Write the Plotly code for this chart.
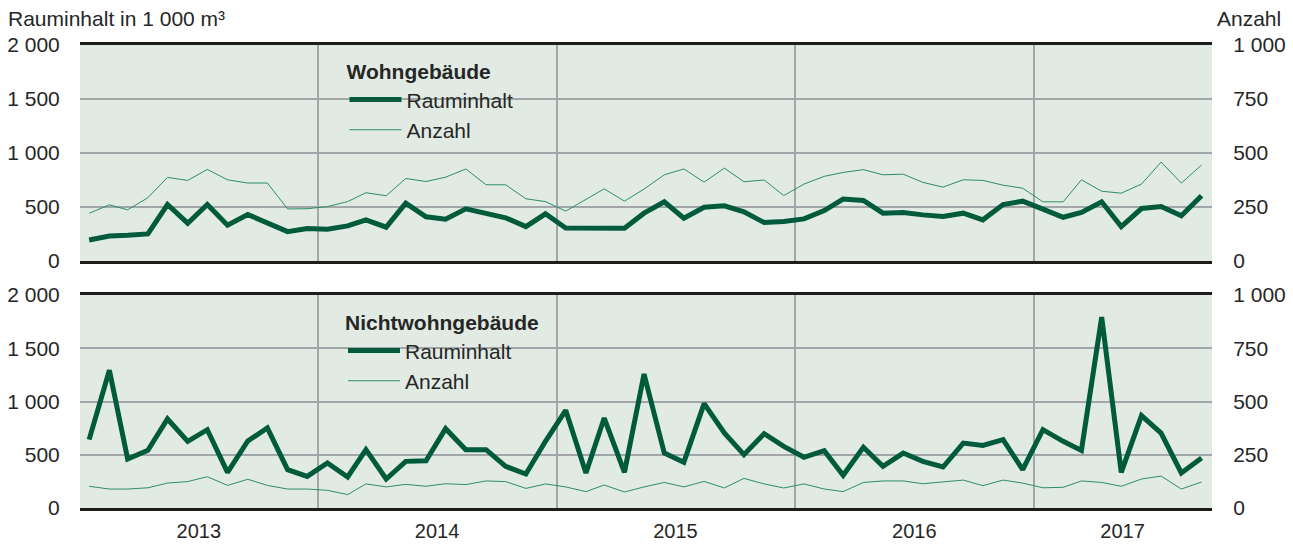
import plotly.graph_objects as go

# ---- data (monthly, Jan 2013 - Sep 2017) ----
months = [f"{y}-{m:02d}-15" for y in range(2013, 2018) for m in range(1, 13)][:57]

wohn_raum = [195, 232, 238, 251, 523, 350, 523, 331, 430, 350, 272, 300,
             294, 325, 381, 313, 536, 410, 387, 483, 443, 400, 319, 437,
             306, 306, 303, 303, 443, 548, 396, 498, 511, 455, 356, 365,
             390, 467, 573, 560, 443, 449, 427, 412, 443, 381, 523, 554,
             480, 405, 449, 548, 319, 486, 505, 418, 604]
wohn_anz = [221, 260, 237, 293, 387, 373, 424, 376, 361, 361, 241, 242,
            252, 275, 316, 302, 382, 368, 388, 426, 353, 353, 288, 275,
            231, 286, 334, 277, 333, 399, 426, 365, 430, 367, 375, 303,
            356, 392, 410, 423, 399, 402, 364, 342, 376, 373, 351, 337,
            274, 274, 376, 323, 314, 356, 458, 361, 444]
nicht_raum = [642, 1293, 460, 541, 836, 626, 735, 335, 629, 751, 360, 297,
              423, 291, 548, 272, 438, 444, 745, 548, 548, 391, 319, 626,
              917, 329, 845, 335, 1258, 516, 429, 980, 704, 501, 698, 579,
              476, 538, 307, 570, 391, 516, 438, 385, 610, 588, 642, 360,
              736, 626, 541, 1793, 335, 867, 704, 329, 470]
nicht_anz = [102, 89, 89, 95, 117, 124, 147, 106, 135, 106, 89, 89,
             83, 63, 113, 99, 111, 102, 114, 110, 127, 124, 92, 113,
             99, 77, 108, 75, 99, 120, 99, 125, 94, 139, 113, 94,
             113, 89, 77, 120, 127, 127, 114, 124, 131, 105, 131, 117,
             95, 97, 127, 120, 102, 136, 150, 89, 122]

year_labels = ["2013", "2014", "2015", "2016", "2017"]
year_label_pos = ["2013-07-02", "2014-07-02", "2015-07-02", "2016-07-02", "2017-05-17"]
year_bounds = ["2014-01-01", "2015-01-01", "2016-01-01", "2017-01-01"]

left_vals = [0, 500, 1000, 1500, 2000]
left_text = ["0", "500", "1 000", "1 500", "2 000"]
right_vals = [0, 250, 500, 750, 1000]
right_text = ["0", "250", "500", "750", "1 000"]

# ---- styles ----
DARK = "#005a3c"
LIGHT = "#2e8c69"
BG = "#e1ebe4"
GRID = "#a3a6a8"
AXIS = "#1d1d1b"
TXT = "#262626"
FONT = "Liberation Sans, Arial, sans-serif"
FS = 21

W, H = 1293, 544
ML, MR, MT, MB = 80, 81, 45, 36
PW, PH = W - ML - MR, H - MT - MB


def px(x):
    return (x - ML) / PW


def py(y):
    return 1 - (y - MT) / PH


fig = go.Figure()
fig.add_trace(go.Scatter(x=months, y=wohn_raum, mode="lines", name="Rauminhalt",
                         line=dict(color=DARK, width=5), xaxis="x", yaxis="y",
                         legend="legend"))
fig.add_trace(go.Scatter(x=months, y=wohn_anz, mode="lines", name="Anzahl",
                         line=dict(color=LIGHT, width=1), xaxis="x", yaxis="y3",
                         legend="legend"))
fig.add_trace(go.Scatter(x=months, y=nicht_raum, mode="lines", name="Rauminhalt",
                         line=dict(color=DARK, width=5), xaxis="x2", yaxis="y2",
                         legend="legend2"))
fig.add_trace(go.Scatter(x=months, y=nicht_anz, mode="lines", name="Anzahl",
                         line=dict(color=LIGHT, width=1), xaxis="x2", yaxis="y4",
                         legend="legend2"))

xcommon = dict(type="date", range=["2013-01-01", "2017-10-01"], showgrid=False,
               zeroline=False, showline=True, mirror=True, linewidth=3, linecolor=AXIS,
               tickmode="array", tickvals=year_label_pos, ticktext=year_labels,
               ticks="outside", ticklen=3, tickcolor="rgba(0,0,0,0)", automargin=False,
               tickfont=dict(family=FONT, size=20, color=TXT),
               minor=dict(tickmode="array", tickvals=year_bounds, showgrid=True,
                          gridcolor=GRID, gridwidth=2, ticks=""))
ycommon_l = dict(range=[0, 2000], tickmode="array", tickvals=left_vals, ticktext=left_text,
                 showgrid=True, gridcolor=GRID, gridwidth=2, zeroline=False, showline=False,
                 ticks="outside", ticklen=15, tickcolor="rgba(0,0,0,0)", automargin=False,
                 tickfont=dict(family=FONT, size=FS, color=TXT))
ycommon_r = dict(range=[0, 1000], tickmode="array", tickvals=right_vals, ticktext=right_text,
                 showgrid=False, zeroline=False, showline=False, side="right",
                 ticks="outside", ticklen=16, tickcolor="rgba(0,0,0,0)", automargin=False,
                 tickfont=dict(family=FONT, size=FS, color=TXT))

top_dom = [py(261), 1.0]
bot_dom = [0.0, py(295)]

legend_common = dict(xanchor="left", yanchor="top", bgcolor="rgba(0,0,0,0)", borderwidth=0,
                     font=dict(family=FONT, size=FS, color=TXT), itemwidth=52,
                     tracegroupgap=0, traceorder="normal")

# background patches behind the legends (hide gridlines, as in the original)
legend_patches = [
    dict(type="rect", xref="paper", yref="paper", layer="between",
         x0=px(330), x1=px(528), y0=py(145), y1=py(58),
         fillcolor=BG, line=dict(width=0)),
    dict(type="rect", xref="paper", yref="paper", layer="between",
         x0=px(329), x1=px(535), y0=py(395), y1=py(308),
         fillcolor=BG, line=dict(width=0)),
]

fig.update_layout(
    width=W, height=H,
    margin=dict(l=ML, r=MR, t=MT, b=MB, autoexpand=False),
    paper_bgcolor="white", plot_bgcolor=BG,
    showlegend=True,
    font=dict(family=FONT, size=FS, color=TXT),
    xaxis=dict(xcommon, anchor="y", domain=[0, 1], showticklabels=False),
    xaxis2=dict(xcommon, anchor="y2", domain=[0, 1]),
    yaxis=dict(ycommon_l, domain=top_dom, anchor="x"),
    yaxis2=dict(ycommon_l, domain=bot_dom, anchor="x2"),
    yaxis3=dict(ycommon_r, overlaying="y", anchor="x"),
    yaxis4=dict(ycommon_r, overlaying="y2", anchor="x2"),
    legend=dict(legend_common, x=px(344.5), y=py(52),
                title=dict(text="<b>Wohngebäude</b>", font=dict(family=FONT, size=FS, color=TXT))),
    legend2=dict(legend_common, x=px(343), y=py(303),
                 title=dict(text="<b>Nichtwohngebäude</b>", font=dict(family=FONT, size=FS, color=TXT))),
    shapes=legend_patches,
    annotations=[
        dict(text="Rauminhalt in 1 000 m³", xref="paper", yref="paper", x=px(6), y=py(19),
             xanchor="left", yanchor="middle", showarrow=False,
             font=dict(family=FONT, size=FS, color=TXT)),
        dict(text="Anzahl", xref="paper", yref="paper", x=px(1283), y=py(19),
             xanchor="right", yanchor="middle", showarrow=False,
             font=dict(family=FONT, size=FS, color=TXT)),
    ],
)

fig.write_html("out.html",
               config={"displayModeBar": False},
               post_script="document.body.style.margin='0';document.body.style.padding='0';"
                           "document.documentElement.style.overflow='hidden';")
